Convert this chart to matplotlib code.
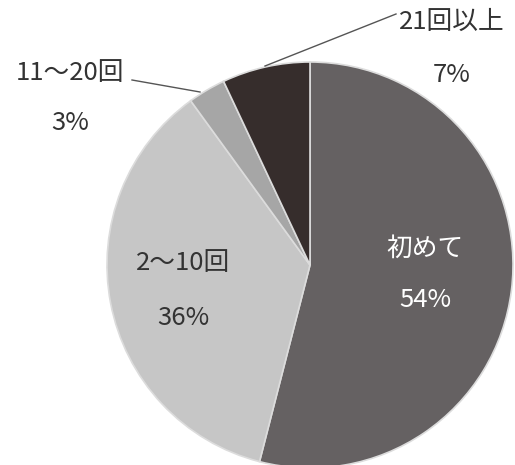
import matplotlib
matplotlib.use("Agg")
import matplotlib.pyplot as plt

plt.rcParams['font.family'] = ['Noto Sans CJK JP', 'DejaVu Sans']

# visit counts, clockwise from the top
labels = ['初めて', '2～10回', '11～20回', '21回以上']
shares = [54, 36, 3, 7]
colors = ['#656162', '#c6c6c6', '#a6a6a6', '#362d2c']
text_colors = ['white', '#333333', '#333333', '#333333']

W, H = 515, 465
fig = plt.figure(figsize=(W / 100, H / 100), dpi=100)
ax = fig.add_axes([0, 0, 1, 1])

cx, cy, r = 310, H - 265, 203
ax.pie(shares, colors=colors, startangle=90, counterclock=False,
       center=(cx, cy), radius=r,
       wedgeprops=dict(edgecolor='#dcdcdc', linewidth=1.2))

# pie() resets the limits, so set the pixel frame afterwards
ax.set_xlim(0, W)
ax.set_ylim(0, H)
ax.set_aspect('equal')
ax.axis('off')

# label anchors (pixel coords from top-left), name line above the percent line
spots = [(425, 249, 300), (183, 263, 318), (70, 73, 123), (452, 22, 75)]
for (x, y1, y2), lab, val, tc in zip(spots, labels, shares, text_colors):
    ax.text(x, H - y1, lab, ha='center', va='center', fontsize=18.5, color=tc)
    ax.text(x, H - y2, f'{val}%', ha='center', va='center', fontsize=18.5, color=tc)

# leader lines for the two small slices
ax.plot([132, 200], [H - 80, H - 92], color='#555555', lw=1)
ax.plot([396, 265], [H - 14, H - 66], color='#555555', lw=1)

fig.savefig('out.png', dpi=100, facecolor='white')
